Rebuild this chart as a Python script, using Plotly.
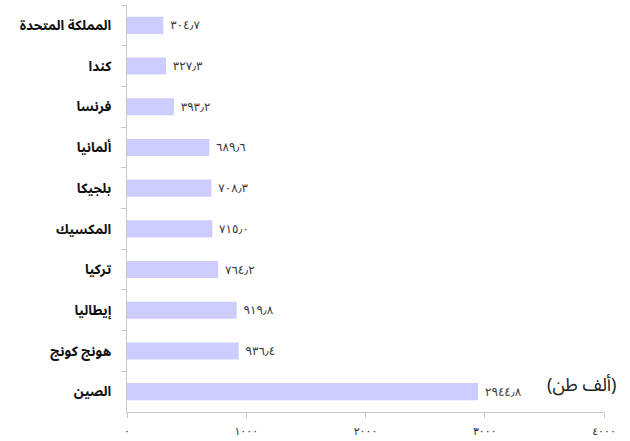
import plotly.graph_objects as go

countries = ["المملكة المتحدة", "كندا", "فرنسا", "ألمانيا", "بلجيكا",
             "المكسيك", "تركيا", "إيطاليا", "هونج كونج", "الصين"]
values = [304.7, 327.3, 393.2, 689.6, 708.3, 715.0, 764.2, 919.8, 936.4, 2944.8]
x_tickvals = [0, 1000, 2000, 3000, 4000]
x_ticktext = ["٠", "١٠٠٠", "٢٠٠٠", "٣٠٠٠", "٤٠٠٠"]
unit_label = "(ألف طن)"

AR_DIGITS = str.maketrans("0123456789.", "٠١٢٣٤٥٦٧٨٩٫")
labels = ["\u00a0" + f"{v:.1f}".translate(AR_DIGITS) for v in values]

FONT = "Noto Sans Arabic, DejaVu Sans, Noto Sans"

fig = go.Figure(go.Bar(
    x=values, y=countries, orientation="h",
    marker=dict(color="#ccccff", line=dict(width=0)),
    text=labels, textposition="outside", cliponaxis=False,
    textfont=dict(family="DejaVu Sans", size=12, color="#3a3a3a"),
    hoverinfo="skip",
))

fig.update_layout(
    width=630, height=441,
    margin=dict(l=127, r=26, t=5, b=29),
    paper_bgcolor="white", plot_bgcolor="white",
    bargap=0.58, showlegend=False,
    font=dict(family=FONT, color="#222"),
)
fig.update_xaxes(
    range=[0, 4000], tickvals=x_tickvals, ticktext=x_ticktext,
    showgrid=False, zeroline=False, showline=True, linecolor="#c8c8c8", linewidth=1,
    ticks="outside", ticklen=5, tickcolor="#c8c8c8", automargin=False,
    ticklabelstandoff=4,
    tickfont=dict(family="DejaVu Sans", size=11, color="#333"),
)
fig.update_yaxes(
    autorange="reversed", showgrid=False, zeroline=False,
    showline=True, linecolor="#c8c8c8", linewidth=1, automargin=False,
    ticks="outside", tickson="boundaries", ticklen=5, tickcolor="#c8c8c8",
    ticklabelstandoff=12,
    tickfont=dict(family=FONT, size=13.5, color="#111", weight="bold"),
)
fig.add_annotation(
    text=unit_label, xref="paper", yref="paper", x=1.032, y=0.066,
    xanchor="right", yanchor="middle", showarrow=False,
    font=dict(family=FONT, size=18, color="#222"),
)
fig.write_html("out.html", config={"displayModeBar": False},
               post_script="document.body.style.margin='0';")
